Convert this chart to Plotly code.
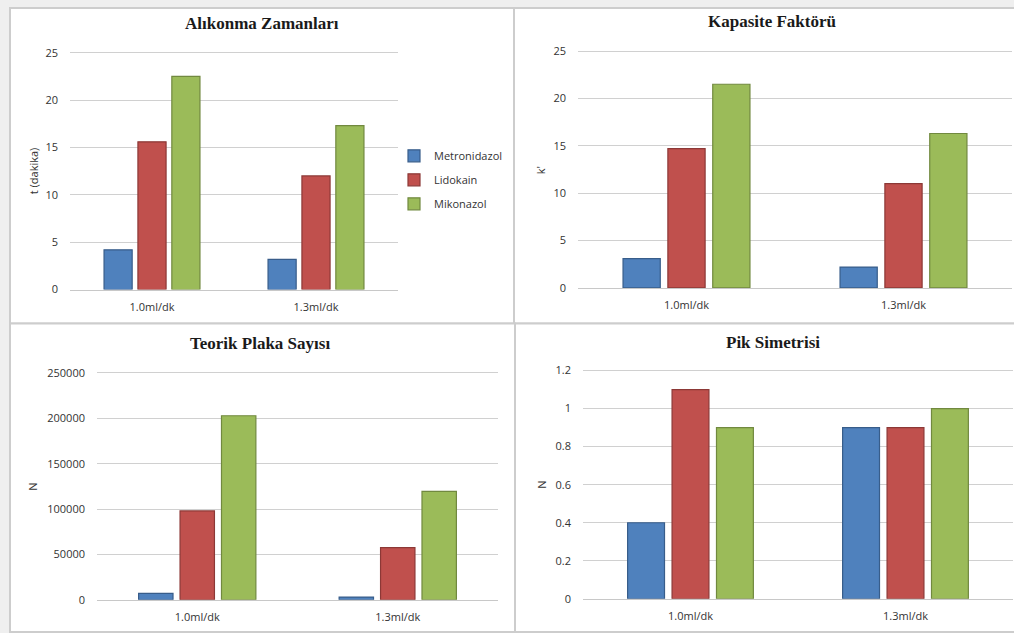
import plotly.graph_objects as go

W, H = 1014, 633
HH = 625  # observed on-screen height of the paper coordinate system

categories = ["1.0ml/dk", "1.3ml/dk"]
series_names = ["Metronidazol", "Lidokain", "Mikonazol"]

# Alıkonma Zamanları (t, dakika)
retention = {
    "Metronidazol": [4.2, 3.2],
    "Lidokain": [15.6, 12.0],
    "Mikonazol": [22.5, 17.3],
}
# Kapasite Faktörü (k')
capacity = {
    "Metronidazol": [3.1, 2.2],
    "Lidokain": [14.7, 11.0],
    "Mikonazol": [21.5, 16.3],
}
# Teorik Plaka Sayısı (N)
plates = {
    "Metronidazol": [7000, 3000],
    "Lidokain": [98000, 57500],
    "Mikonazol": [202800, 119500],
}
# Pik Simetrisi
symmetry = {
    "Metronidazol": [0.4, 0.9],
    "Lidokain": [1.1, 0.9],
    "Mikonazol": [0.9, 1.0],
}

fill_colors = {"Metronidazol": "#4F81BD", "Lidokain": "#C0504D", "Mikonazol": "#9BBB59"}
line_colors = {"Metronidazol": "#385D8A", "Lidokain": "#8C3836", "Mikonazol": "#71893F"}

panels = [
    dict(data=retention, title="Alıkonma Zamanları", ytitle="t (dakika)",
         box=(70, 398, 49, 287), rng=[0, 25], dtick=5, tpos=(262, 20), ypos=(33, 168)),
    dict(data=capacity, title="Kapasite Faktörü", ytitle="k'",
         box=(578, 1012, 47.3, 285.3), rng=[0, 25], dtick=5, tpos=(772, 18), ypos=(540, 167)),
    dict(data=plates, title="Teorik Plaka Sayısı", ytitle="N",
         box=(97, 498, 370.7, 598.7), rng=[0, 250000], dtick=50000, tpos=(260, 341), ypos=(33, 485)),
    dict(data=symmetry, title="Pik Simetrisi", ytitle="N",
         box=(583, 1013, 368.3, 597.7), rng=[0, 1.2], dtick=0.2, tpos=(773, 340), ypos=(542, 483)),
]

PAD = 0.02  # extra headroom so the top gridline is not clipped

def px(x):
    return x / W

def py(y):
    return 1 - y / HH

fig = go.Figure()
annotations = []
tick_font = dict(family="Open Sans", size=11, color="#333333")

for i, p in enumerate(panels):
    idx = "" if i == 0 else str(i + 1)
    xa, ya = "x" + idx, "y" + idx
    for name in series_names:
        fig.add_trace(go.Bar(
            x=categories, y=p["data"][name], name=name,
            xaxis=xa, yaxis=ya,
            marker=dict(color=fill_colors[name], line=dict(color=line_colors[name], width=1.2)),
            showlegend=(i == 0), legendgroup=name,
        ))
    x0, x1, yt, yb = p["box"]
    lo, hi = p["rng"]
    yt_ext = yt - (yb - yt) * PAD
    fig.update_layout(**{
        "xaxis" + idx: dict(domain=[px(x0), px(x1)], anchor=ya, showgrid=False,
                            showline=True, linecolor="#c8c8c8", linewidth=1,
                            ticks="", tickfont=tick_font, ticklabelstandoff=7,
                            fixedrange=True),
        "yaxis" + idx: dict(domain=[py(yb), py(yt_ext)], anchor=xa, range=[lo, hi * (1 + PAD)],
                            tick0=0, dtick=p["dtick"], tickformat="d" if p["dtick"] == 50000 else None,
                            showgrid=True, gridcolor="#d0d0d0", gridwidth=1,
                            zeroline=False, showline=False, ticks="",
                            tickfont=tick_font, ticklabelstandoff=11, fixedrange=True),
    })
    annotations.append(dict(text="<b>" + p["title"] + "</b>", x=px(p["tpos"][0]), y=py(p["tpos"][1]),
                            xref="paper", yref="paper", showarrow=False,
                            xanchor="center", yanchor="middle",
                            font=dict(family="Liberation Serif", size=17, color="#1a1a1a")))
    annotations.append(dict(text=p["ytitle"], x=px(p["ypos"][0]), y=py(p["ypos"][1]),
                            xref="paper", yref="paper", showarrow=False, textangle=-90,
                            xanchor="center", yanchor="middle",
                            font=dict(family="Open Sans", size=11, color="#333333")))

shapes = []
shapes.append(dict(type="rect", xref="paper", yref="paper", x0=0, x1=1, y0=py(640), y1=1,
                   fillcolor="#efefef", line=dict(width=0), layer="below"))
panel_boxes = [(10, 514, 4, 321), (514, 1020, 4, 321), (10, 515, 321, 631), (515, 1020, 321, 631)]
for (a, b, c, d) in panel_boxes:
    shapes.append(dict(type="rect", xref="paper", yref="paper",
                       x0=px(a), x1=px(b), y0=py(d), y1=py(c),
                       fillcolor="white", line=dict(color="#cdcdcd", width=2), layer="below"))

fig.update_layout(
    width=W, height=H,
    margin=dict(l=0, r=0, t=0, b=0),
    paper_bgcolor="#efefef", plot_bgcolor="rgba(0,0,0,0)",
    barmode="group", bargap=0.38, bargroupgap=0.17,
    annotations=annotations, shapes=shapes,
    legend=dict(x=px(394), y=py(138), xanchor="left", yanchor="top",
                font=dict(family="Open Sans", size=11, color="#333333"),
                bgcolor="rgba(0,0,0,0)", tracegroupgap=5, itemwidth=30),
)

fig.write_html("out.html", config={"displayModeBar": False})
